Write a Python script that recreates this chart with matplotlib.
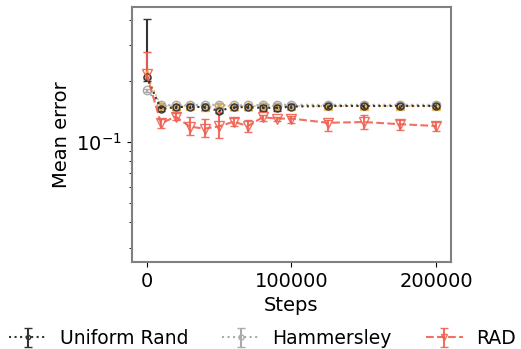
import numpy as np
import matplotlib
matplotlib.use("Agg")
import matplotlib.pyplot as plt

steps = [0, 10000, 20000, 30000, 40000, 50000, 60000, 70000, 80000, 90000,
         100000, 125000, 150000, 175000, 200000]

# Uniform Rand (black dotted)
uni_mean = [0.209, 0.145, 0.148, 0.149, 0.148, 0.142, 0.148, 0.148, 0.147, 0.147,
            0.149, 0.150, 0.150, 0.150, 0.150]
uni_lo = [0.01, 0.004, 0.004, 0.004, 0.004, 0.003, 0.004, 0.004, 0.005, 0.005,
          0.004, 0.004, 0.004, 0.004, 0.004]
uni_hi = [0.194, 0.004, 0.004, 0.004, 0.004, 0.003, 0.004, 0.004, 0.005, 0.005,
          0.004, 0.004, 0.004, 0.004, 0.004]

# Hammersley (grey dotted)
ham_mean = [0.179, 0.152, 0.151, 0.152, 0.152, 0.152, 0.151, 0.151, 0.152, 0.152,
            0.152, 0.152, 0.152, 0.152, 0.152]
ham_err = [0.004, 0.003, 0.003, 0.003, 0.003, 0.003, 0.003, 0.003, 0.003, 0.003,
           0.003, 0.003, 0.003, 0.003, 0.003]

# extra orange series
ora_mean = [0.215, 0.150, 0.150, 0.150, 0.148, 0.150, 0.150, 0.150, 0.150, 0.150,
            0.150, 0.150, 0.150, 0.150, 0.150]
ora_lo = [0.01, 0.004, 0.004, 0.004, 0.004, 0.004, 0.004, 0.004, 0.004, 0.004,
          0.004, 0.004, 0.004, 0.004, 0.004]
ora_hi = [0.061, 0.004, 0.004, 0.004, 0.004, 0.004, 0.004, 0.004, 0.004, 0.004,
          0.004, 0.004, 0.004, 0.004, 0.004]

# RAD (red dashed)
rad_mean = [0.216, 0.123, 0.133, 0.1186, 0.116, 0.119, 0.1255, 0.1195, 0.132, 0.130,
            0.130, 0.124, 0.125, 0.122, 0.1195]
rad_lo = [0.01, 0.006, 0.005, 0.011, 0.010, 0.0145, 0.006, 0.008, 0.005, 0.004,
          0.007, 0.011, 0.009, 0.008, 0.007]
rad_hi = [0.060, 0.006, 0.005, 0.0135, 0.014, 0.0215, 0.006, 0.009, 0.003, 0.003,
          0.004, 0.004, 0.010, 0.006, 0.005]

plt.rcParams['font.size'] = 14
fig = plt.figure(figsize=(5.21, 3.49), dpi=100)
ax = fig.add_axes([0.2534, 0.2493, 0.6122, 0.7307])

ax.errorbar(steps, ora_mean, yerr=[ora_lo, ora_hi], color='#f5a623', ls=':',
            marker='^', ms=6, mfc='none', capsize=3, alpha=0.8, lw=1.2)
ax.errorbar(steps, ham_mean, yerr=ham_err, color='#aaaaaa', ls=':', marker='o',
            ms=6, mfc='none', capsize=3, lw=1.5, label='Hammersley')
ax.errorbar(steps, uni_mean, yerr=[uni_lo, uni_hi], color='#333333', ls=':',
            marker='o', ms=5, mfc='none', capsize=3, lw=1.5, label='Uniform Rand')
ax.errorbar(steps, rad_mean, yerr=[rad_lo, rad_hi], color='#f06050', ls='--',
            marker='v', ms=7, mfc='none', capsize=3, lw=1.5, alpha=0.9, label='RAD')

ax.set_yscale('log')
ax.set_ylim(0.0255, 0.462)
ax.set_xlim(-10000, 210000)
ax.set_xticks([0, 100000, 200000])
ax.set_xlabel('Steps')
ax.set_ylabel('Mean error')
for s in ax.spines.values():
    s.set_color('#808080')
    s.set_linewidth(1.5)

h, l = ax.get_legend_handles_labels()
order = [1, 0, 2]
fig.legend([h[i] for i in order], [l[i] for i in order], loc='lower left',
           bbox_to_anchor=(-0.015, -0.045), ncol=3, frameon=False,
           handlelength=2.0, handletextpad=0.7, columnspacing=1.8,
           markerscale=0.6, fontsize=13.5)

fig.savefig('out.png', dpi=100)
